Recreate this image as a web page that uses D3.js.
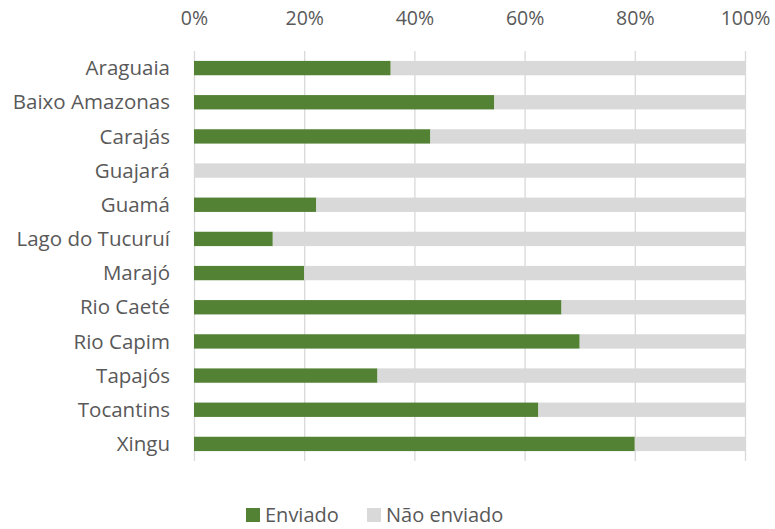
<!DOCTYPE html>
<style>
body { margin: 0; background: #fff; }
text { font-family: "Open Sans", sans-serif; fill: #595959; }
.axis .domain { display: none; }
.axis .tick line { stroke: #d9d9d9; stroke-width: 1.3; }
</style>
<svg width="775" height="529"></svg>
<script src="https://d3js.org/d3.v7.min.js"></script>
<script>
var regions = ["Araguaia", "Baixo Amazonas", "Carajás", "Guajará", "Guamá", "Lago do Tucuruí",
               "Marajó", "Rio Caeté", "Rio Capim", "Tapajós", "Tocantins", "Xingu"];
var enviado = [35.7, 54.5, 42.9, 0, 22.2, 14.3, 20, 66.7, 70, 33.3, 62.5, 80];
var naoEnviado = enviado.map(function(v) { return 100 - v; });
var seriesNames = ["Enviado", "Não enviado"];
var colors = ["#548235", "#d9d9d9"];
var ticks = [0, 20, 40, 60, 80, 100];

var svg = d3.select("svg"),
    margin = {top: 51, right: 30, bottom: 68, left: 194},
    width = +svg.attr("width") - margin.left - margin.right,
    height = +svg.attr("height") - margin.top - margin.bottom,
    g = svg.append("g").attr("transform", "translate(" + margin.left + "," + margin.top + ")");

var x = d3.scaleLinear().domain([0, 100]).range([0, width]);
var y = d3.scaleBand().domain(regions).range([0, height]).paddingInner(0.58).paddingOuter(0.29);

// gridlines + top labels
var xAxis = g.append("g").attr("class", "axis")
    .call(d3.axisTop(x).tickValues(ticks).tickSize(-height).tickFormat(function(d) { return d + "%"; }));
xAxis.selectAll(".tick text").attr("y", -26).attr("dy", 0).style("font-size", "19.5px");

var rows = regions.map(function(r, i) { return {name: r, vals: [enviado[i], naoEnviado[i]]}; });

var row = g.selectAll("g.row").data(rows).enter().append("g")
    .attr("class", "row")
    .attr("transform", function(d) { return "translate(0," + y(d.name) + ")"; });

row.selectAll("rect").data(function(d) {
    var start = 0;
    return d.vals.map(function(v, k) { var o = {x0: start, v: v, k: k}; start += v; return o; });
  }).enter().append("rect")
    .attr("x", function(d) { return x(d.x0); })
    .attr("width", function(d) { return x(d.x0 + d.v) - x(d.x0); })
    .attr("height", y.bandwidth())
    .attr("fill", function(d) { return colors[d.k]; });

row.append("text")
    .attr("x", -24)
    .attr("y", y.bandwidth() / 2)
    .attr("dy", "0.35em")
    .attr("text-anchor", "end")
    .style("font-size", "20.5px")
    .text(function(d) { return d.name; });

// legend
var legend = svg.append("g").attr("transform", "translate(246,514)");
var lx = [0, 121];
seriesNames.forEach(function(s, i) {
  var lg = legend.append("g").attr("transform", "translate(" + lx[i] + ",0)");
  lg.append("rect").attr("x", 0).attr("y", -6).attr("width", 14).attr("height", 14).attr("fill", colors[i]);
  lg.append("text").attr("x", 19).attr("y", 1).attr("dy", "0.35em").style("font-size", "20px").text(s);
});
</script>
